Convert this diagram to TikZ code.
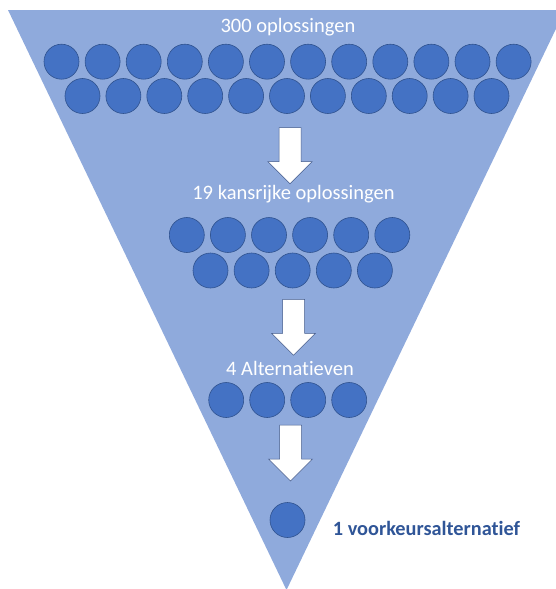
\documentclass[tikz,border=0pt]{standalone}
\usepackage{fontspec}
\setmainfont[Ligatures=NoCommon]{Carlito}
\usepackage{tikz}
\usetikzlibrary{positioning}
\definecolor{phieu}{HTML}{8FAADC}
\definecolor{bolvul}{HTML}{4472C4}
\definecolor{bolrand}{HTML}{2F528F}
\definecolor{pijlrand}{HTML}{41598A}
\definecolor{keuzeblauw}{HTML}{2F5597}

\begin{document}
\begin{tikzpicture}[x=1pt,y=-1pt,
    bol/.style={circle,draw=bolrand,fill=bolvul,line width=0.6pt,minimum size=35pt,inner sep=0pt},
    tekst/.style={text=white,font=\fontsize{20.5}{24}\selectfont,anchor=base,inner sep=0pt},
    pijl/.style={fill=white,draw=pijlrand,line width=0.5pt}]

            % Khung hình
            \useasboundingbox (0,0) rectangle (556,589);

            % Vẽ phễu tam giác
            \fill[phieu] (8,10) -- (565,10) -- (286.5,590) -- cycle;

            % Các dòng chữ
            \node[tekst] (t300) at (288,32) {300 oplossingen};
            \node[tekst] (t19) at (293.5,199.3) {19 kansrijke oplossingen};
            \node[tekst] (t4) at (290,375) {4 Alternatieven};
            \node[anchor=base west,inner sep=0pt,text=keuzeblauw,font=\fontsize{20.3}{24}\selectfont\bfseries] (t1) at (332.7,535) {1 voorkeursalternatief};

            % Hàng 12 và 11 hình tròn
            \foreach \i in {0,...,11}
                \node[bol] (a\i) at (61.5+41.1*\i,61.7) {};
            \foreach \i in {0,...,10}
                \node[bol] (b\i) at (82.5+40.9*\i,96) {};

            % Hàng 6 và 5 hình tròn
            \foreach \i in {0,...,5}
                \node[bol] (c\i) at (186.8+41.1*\i,235) {};
            \foreach \i in {0,...,4}
                \node[bol] (d\i) at (210.5+41.1*\i,270.5) {};

            % Hàng 4 hình tròn
            \foreach \i in {0,...,3}
                \node[bol] (e\i) at (226.2+41*\i,400) {};

            % Hình tròn cuối cùng
            \node[bol] (f0) at (287.5,520) {};

            % Vẽ các mũi tên trắng
            \foreach \x/\y in {290/127.7, 293.5/299.3, 290.5/425}
                \draw[pijl] (\x-11,\y) -- (\x+11,\y) -- (\x+11,\y+34) -- (\x+22,\y+34)
                    -- (\x,\y+56) -- (\x-22,\y+34) -- (\x-11,\y+34) -- cycle;

\end{tikzpicture}
\end{document}
